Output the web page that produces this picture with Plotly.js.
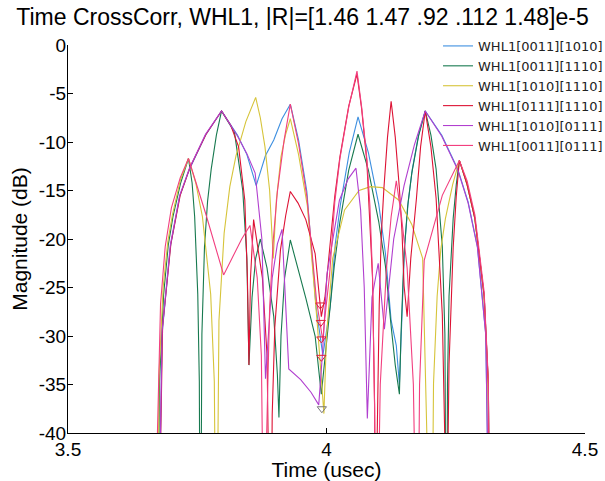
<!DOCTYPE html>
<html>
<head>
<meta charset="utf-8">
<script src="https://cdn.plot.ly/plotly-3.0.1.min.js"></script>
<style>html,body{margin:0;padding:0;background:#fff}#chart{width:605px;height:481px}</style>
</head>
<body>
<div id="chart"></div>
<script>
// ---- data (time in usec, magnitude in dB) ----
const seriesNames = ["WHL1[0011][1010]", "WHL1[0011][1110]", "WHL1[1010][1110]", "WHL1[0111][1110]", "WHL1[1010][0111]", "WHL1[0011][0111]"];

const curve0011_1010 = [[3.673,-60],[3.682,-29.8],[3.698,-20.8],[3.716,-15.6],[3.735,-12.8],[3.766,-9.3],[3.797,-6.8],[3.828,-9.3],[3.846,-11.3],[3.864,-14.5],[3.882,-11.4],[3.898,-9.8],[3.914,-7.6],[3.930,-6.1],[3.946,-9.8],[3.962,-15.1],[3.980,-27.1],[3.993,-32],[4.007,-27],[4.017,-20.5],[4.027,-16.4],[4.044,-11.1],[4.061,-7.4],[4.081,-11.1],[4.101,-16.4],[4.114,-21.5],[4.125,-28.4],[4.135,-31],[4.141,-35],[4.146,-28],[4.151,-20.8],[4.158,-16.2],[4.166,-12.8],[4.178,-9.3],[4.191,-6.8],[4.223,-9.3],[4.254,-12.8],[4.274,-16.2],[4.292,-20.8],[4.308,-29.8],[4.317,-60]];

const curve0011_1110 = [[3.673,-60],[3.677,-34.7],[3.685,-25.7],[3.694,-20.6],[3.703,-17.7],[3.718,-14.2],[3.733,-11.7],[3.740,-14.2],[3.745,-17.7],[3.751,-25.7],[3.754,-34.7],[3.756,-60],[3.759,-29.8],[3.764,-20.8],[3.770,-16.1],[3.777,-12.8],[3.787,-9.3],[3.797,-6.8],[3.822,-9.0],[3.838,-15],[3.846,-22],[3.850,-33],[3.856,-26],[3.863,-22],[3.872,-20],[3.885,-23],[3.898,-28],[3.905,-34],[3.908,-38.4],[3.912,-30],[3.919,-24],[3.930,-20.1],[3.960,-26.1],[3.978,-30],[3.990,-36],[4.004,-29],[4.015,-22.8],[4.026,-18.2],[4.043,-12.9],[4.061,-9.2],[4.081,-12.9],[4.101,-18.2],[4.114,-22.8],[4.125,-29],[4.133,-33],[4.141,-36],[4.144,-30],[4.150,-21.5],[4.157,-16.6],[4.165,-13.2],[4.178,-9.4],[4.191,-6.8],[4.202,-9.3],[4.212,-12.8],[4.224,-20.8],[4.229,-29.8],[4.232,-60],[4.234,-34.9],[4.237,-25.9],[4.245,-17.9],[4.251,-14.4],[4.257,-11.9],[4.272,-14.4],[4.287,-17.9],[4.305,-25.9],[4.313,-34.9],[4.317,-60]];

const curve1010_1110 = [[3.673,-60],[3.676,-34],[3.684,-25],[3.693,-20.3],[3.702,-17.5],[3.717,-14],[3.733,-11.7],[3.747,-14.2],[3.760,-17.7],[3.776,-25.7],[3.783,-34.7],[3.787,-60],[3.792,-28.4],[3.802,-19.4],[3.813,-14.6],[3.825,-11.4],[3.844,-7.9],[3.863,-5.4],[3.872,-7.5],[3.881,-10.5],[3.890,-15],[3.897,-22],[3.903,-16],[3.912,-11.5],[3.921,-9.2],[3.930,-7.6],[3.946,-11.3],[3.963,-16.6],[3.982,-28.6],[3.995,-38],[4.000,-30],[4.012,-22],[4.035,-17],[4.063,-15],[4.085,-14.6],[4.108,-14.7],[4.140,-16],[4.165,-18.5],[4.186,-22],[4.203,-60],[4.207,-34.9],[4.214,-25.9],[4.221,-21.1],[4.230,-17.9],[4.244,-14.4],[4.257,-11.9],[4.271,-14.2],[4.286,-17.6],[4.304,-25.5],[4.312,-34],[4.316,-60]];

const curve0111_1110 = [[3.673,-60],[3.683,-29],[3.699,-20.5],[3.717,-15.5],[3.736,-12.6],[3.767,-9.2],[3.797,-6.8],[3.815,-8.3],[3.830,-10.5],[3.842,-16],[3.847,-24],[3.850,-33],[3.853,-24],[3.859,-18],[3.876,-24],[3.885,-32],[3.892,-60],[3.895,-38.1],[3.900,-29.1],[3.911,-21.1],[3.921,-17.6],[3.930,-15.1],[3.945,-16.3],[3.960,-18],[3.978,-21.5],[3.990,-28],[3.997,-26],[4.006,-21],[4.016,-15.6],[4.026,-11.5],[4.043,-6.3],[4.059,-3.0],[4.068,-6.6],[4.078,-12],[4.089,-24],[4.093,-37],[4.096,-60],[4.098,-40.4],[4.102,-26.8],[4.106,-19.6],[4.111,-14.8],[4.118,-9.5],[4.125,-5.8],[4.133,-9.5],[4.141,-14.8],[4.146,-19.2],[4.150,-24.8],[4.156,-28],[4.163,-22],[4.174,-15.8],[4.182,-10.5],[4.191,-6.8],[4.202,-10.5],[4.212,-15.8],[4.224,-27.8],[4.229,-41],[4.232,-60],[4.234,-46],[4.237,-32.9],[4.245,-20.9],[4.251,-15.6],[4.257,-11.9],[4.272,-14.4],[4.287,-17.9],[4.305,-25.9],[4.313,-34.9],[4.317,-60]];

const curve1010_0111 = [[3.673,-60],[3.682,-29.5],[3.698,-20.6],[3.716,-15.5],[3.735,-12.7],[3.766,-9.2],[3.797,-6.8],[3.828,-9.4],[3.846,-11.2],[3.862,-13.2],[3.875,-20],[3.882,-34.4],[3.895,-24],[3.905,-20.5],[3.914,-19],[3.927,-33.4],[3.950,-34.5],[3.970,-35.8],[3.985,-37.1],[3.992,-32],[4.001,-23.6],[4.025,-16],[4.042,-13.8],[4.057,-12.7],[4.066,-17],[4.073,-25],[4.079,-38.5],[4.088,-26],[4.100,-22.5],[4.112,-29.3],[4.130,-20],[4.150,-14.5],[4.170,-10.3],[4.191,-6.8],[4.223,-9.4],[4.254,-12.9],[4.274,-16.3],[4.292,-20.9],[4.308,-29.9],[4.317,-60]];

const curve0011_0111 = [[3.672,-60],[3.673,-40],[3.679,-26.7],[3.688,-20.8],[3.700,-16.8],[3.717,-13.7],[3.733,-11.7],[3.767,-17.5],[3.801,-23.7],[3.836,-20],[3.852,-18.6],[3.866,-24],[3.874,-32],[3.880,-60],[3.884,-40.7],[3.890,-27.1],[3.897,-20.1],[3.905,-15.1],[3.918,-9.8],[3.930,-6.1],[3.946,-10.2],[3.962,-15.6],[3.981,-26.5],[3.993,-30.5],[3.996,-28.5],[4.006,-23.7],[4.016,-16.2],[4.026,-11.7],[4.043,-6.4],[4.059,-2.7],[4.068,-6.4],[4.078,-11.7],[4.084,-16.6],[4.089,-23.7],[4.093,-37.3],[4.096,-60],[4.104,-35],[4.116,-23],[4.125,-17.7],[4.135,-14],[4.145,-17.7],[4.156,-23],[4.168,-35],[4.176,-60],[4.180,-35],[4.189,-22.2],[4.224,-15.5],[4.257,-11.9],[4.272,-14.0],[4.287,-17.5],[4.305,-25.5],[4.313,-34.5],[4.317,-60]];

// centre-time markers
const centerRedT  = [3.988, 3.989, 3.990, 3.990];
const centerRedDb = [-26.8, -28.6, -30.3, -32.2];
const centerGrayT  = [3.991];
const centerGrayDb = [-37.5];

// ticks
const xTickVals = [3.5, 4, 4.5];
const xTickText = ["3.5", "4", "4.5"];
const yTickVals = [0, -5, -10, -15, -20, -25, -30, -35, -40];
const yTickText = ["0", "-5", "-10", "-15", "-20", "-25", "-30", "-35", "-40"];

// ---- styling ----
const curves = [curve0011_1010, curve0011_1110, curve1010_1110, curve0111_1110, curve1010_0111, curve0011_0111];
const colors = ["#3d8fe0", "#17794f", "#d6c43a", "#dd1234", "#b13fcf", "#f23f7f"];

const traces = curves.map((c, i) => ({
  type: "scatter", mode: "lines", name: seriesNames[i],
  x: c.map(p => p[0]), y: c.map(p => p[1]),
  line: {color: colors[i], width: 1.1}
}));
traces.push({type: "scatter", mode: "markers", showlegend: false, x: centerRedT, y: centerRedDb,
  marker: {symbol: "triangle-down-open", size: 8, color: "#e0203a", line: {width: 1}}});
traces.push({type: "scatter", mode: "markers", showlegend: false, x: centerGrayT, y: centerGrayDb,
  marker: {symbol: "triangle-down-open", size: 8, color: "#777777", line: {width: 1}}});

const FONT = "Liberation Sans, Arial, Helvetica, sans-serif";
const layout = {
  width: 605, height: 481,
  margin: {l: 68, r: 20, t: 45, b: 48, pad: 0, autoexpand: false},
  paper_bgcolor: "#ffffff", plot_bgcolor: "#ffffff",
  font: {family: FONT, color: "#000", size: 19},
  title: {text: "Time CrossCorr, WHL1, |R|=[1.46 1.47 .92 .112 1.48]e-5",
    font: {family: FONT, size: 23, color: "#000"},
    xref: "container", x: 0.5, xanchor: "center", yref: "container", y: 0.965, yanchor: "middle"},
  xaxis: {range: [3.5, 4.5], tickvals: xTickVals, ticktext: xTickText, automargin: false,
    ticks: "inside", ticklen: 5, tickcolor: "#000", showline: true, linecolor: "#000", linewidth: 1,
    mirror: false, showgrid: false, zeroline: false, tickfont: {size: 19, family: FONT}, ticklabelstandoff: -1,
    title: {text: "Time (usec)", font: {size: 21, family: FONT}, standoff: 0}},
  yaxis: {range: [-40, 0], tickvals: yTickVals, ticktext: yTickText, automargin: false,
    ticks: "inside", ticklen: 5, tickcolor: "#000", showline: true, linecolor: "#000", linewidth: 1,
    mirror: false, showgrid: false, zeroline: false, tickfont: {size: 19, family: FONT}, ticklabelstandoff: -3,
    title: {text: "Magnitude (dB)", font: {size: 21, family: FONT}, standoff: 5}},
  legend: {xref: "container", yref: "container", x: 0.724, xanchor: "left", y: 0.9356, yanchor: "top",
    bgcolor: "rgba(255,255,255,0)", borderwidth: 0, font: {size: 13, family: "DejaVu Sans, sans-serif", color: "#222"},
    itemwidth: 30, tracegroupgap: 0},
  showlegend: true
};

Plotly.newPlot("chart", traces, layout, {displayModeBar: false, staticPlot: true});
</script>
</body>
</html>
